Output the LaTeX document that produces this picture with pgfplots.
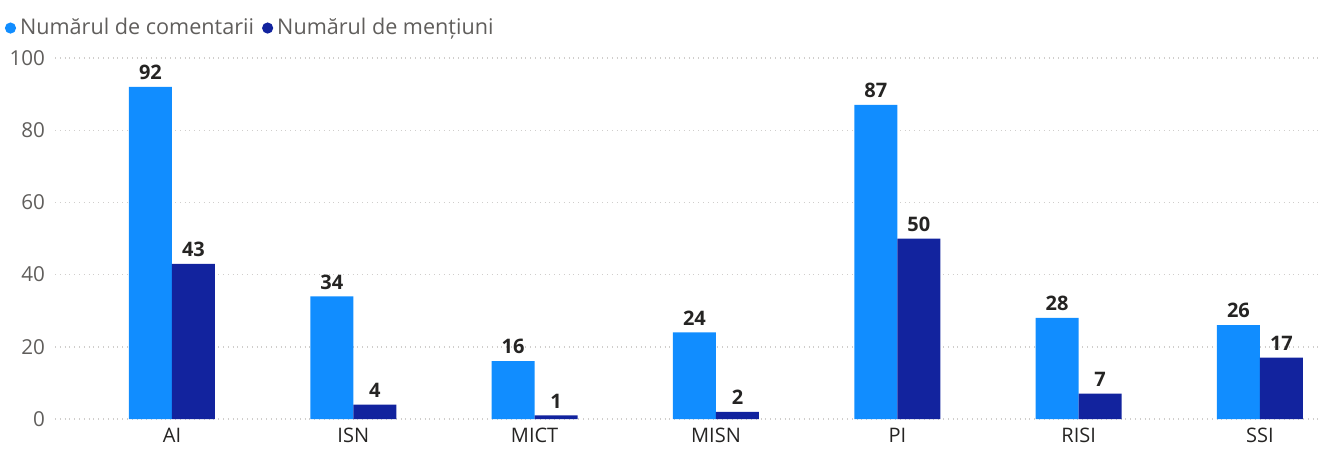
\documentclass[border=0pt]{standalone}
\usepackage{pgfplots}
\pgfplotsset{compat=1.18}
\usepackage{fontspec}
\setmainfont{Open Sans}
\definecolor{cLight}{HTML}{118DFF}
\definecolor{cDark}{HTML}{12239E}
\definecolor{cGrid}{HTML}{D0CECC}
\definecolor{cTick}{HTML}{605E5C}
\definecolor{cLab}{HTML}{252423}
\begin{document}
\begin{tikzpicture}
\useasboundingbox (0,0) rectangle (661pt,226pt);
\begin{axis}[
  at={(27.5pt,16.5pt)}, anchor=south west,
  scale only axis, width=631.5pt, height=180.5pt,
  ybar=0pt, bar width=21.5pt,
  xmin=-0.645, xmax=6.32, ymin=0, ymax=100,
  xtick=data, xticklabels={AI,ISN,MICT,MISN,PI,RISI,SSI},
  ytick={0,20,40,60,80,100},
  axis line style={draw=none},
  major tick length=0pt,
  ymajorgrids, grid style={cGrid, dotted, line width=0.7pt},
  yticklabel style={text=cTick, font=\fontsize{10.3}{11}\selectfont, xshift=-1.5pt},
  xticklabel style={text=cLab, font=\fontsize{10}{11}\selectfont, yshift=-1pt},
  /pgf/number format/assume math mode=true,
  nodes near coords,
  nodes near coords style={font=\fontsize{10}{12}\selectfont\bfseries, text=cLab, anchor=south, yshift=0pt},
  legend image code/.code={\fill[#1] (0pt,0pt) circle (2.8pt);},
  legend style={at={(-0.04,1.083)}, anchor=west, draw=none, fill=none, legend columns=2,
    font=\fontsize{10.8}{12}\selectfont, text=cTick,
    /tikz/every even column/.append style={column sep=2pt},
    inner sep=0pt, cells={anchor=west}},
  clip=false,
]
\addplot[fill=cLight, draw=none] coordinates {(0,92) (1,34) (2,16) (3,24) (4,87) (5,28) (6,26)};
\addplot[fill=cDark, draw=none] coordinates {(0,43) (1,4) (2,1) (3,2) (4,50) (5,7) (6,17)};
\legend{Numărul de comentarii, Numărul de mențiuni}
\end{axis}
\end{tikzpicture}
\end{document}
